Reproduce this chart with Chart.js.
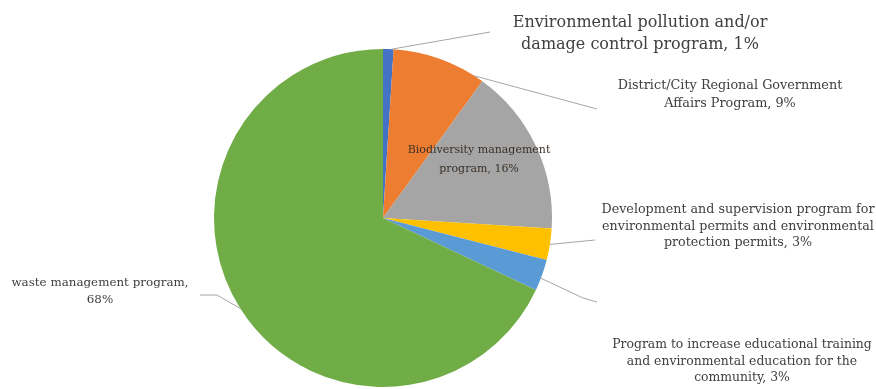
<!DOCTYPE html>
<html>
<head>
<meta charset="utf-8">
<script src="https://cdn.jsdelivr.net/npm/chart.js@4/dist/chart.umd.min.js"></script>
<style>
  html, body { margin: 0; padding: 0; background: #fff; }
  canvas { display: block; }
</style>
</head>
<body>
<canvas id="pie" width="876" height="389"></canvas>
<script>
// categories (each entry is the label split into lines)
const categories = [
  ['Environmental pollution and/or', 'damage control program'],
  ['District/City Regional Government', 'Affairs Program'],
  ['Biodiversity management', 'program'],
  ['Development and supervision program for', 'environmental permits and environmental', 'protection permits'],
  ['Program to increase educational training', 'and environmental education for the', 'community'],
  ['waste management program,']
];
const shares = [1, 9, 16, 3, 3, 68];
const colors = ['#4472C4', '#ED7D31', '#A5A5A5', '#FFC000', '#5B9BD5', '#70AD47'];

// where each label sits (layout only)
const labelLayout = [
  { x: 640, y: 23, size: 16, lh: 22, line: [[490, 32]], at: 0.8 },
  { x: 730, y: 86, size: 12.8, lh: 18, line: [[597, 109]], at: 0.9 },
  { x: 479, y: 150, size: 11, lh: 19, line: null },
  { x: 738, y: 210, size: 12.7, lh: 16.5, line: [[595, 240]], at: 0.5 },
  { x: 742, y: 345, size: 12.4, lh: 16.5, line: [[583, 298], [597, 302]], at: 0.6 },
  { x: 100, y: 283, size: 11.9, lh: 17, line: [[217, 295], [200, 295]], at: 0.5, pctLine: true }
];

const labelPlugin = {
  id: 'pieLabels',
  afterDraw(chart) {
    const ctx = chart.ctx;
    const meta = chart.getDatasetMeta(0);
    ctx.save();
    meta.data.forEach((arc, i) => {
      const p = arc.getProps(['x', 'y', 'startAngle', 'endAngle', 'outerRadius'], true);
      const L = labelLayout[i];
      if (L.line) {
        const a = p.startAngle + L.at * (p.endAngle - p.startAngle);
        const ex = p.x + Math.cos(a) * p.outerRadius;
        const ey = p.y + Math.sin(a) * p.outerRadius;
        ctx.strokeStyle = '#a6a6a6';
        ctx.lineWidth = 1;
        ctx.beginPath();
        ctx.moveTo(ex, ey);
        L.line.forEach(pt => ctx.lineTo(pt[0], pt[1]));
        ctx.stroke();
      }
      const pct = shares[i] + '%';
      const lines = categories[i].slice();
      if (L.pctLine) lines.push(pct);
      else lines[lines.length - 1] += ', ' + pct;
      ctx.font = L.size + 'px "DejaVu Serif"';
      ctx.fillStyle = i === 2 ? '#3a3129' : '#404040';
      ctx.textAlign = 'center';
      ctx.textBaseline = 'middle';
      lines.forEach((t, k) => ctx.fillText(t, L.x, L.y + k * L.lh));
    });
    ctx.restore();
  }
};

new Chart(document.getElementById('pie').getContext('2d'), {
  type: 'pie',
  data: {
    labels: categories,
    datasets: [{
      data: shares,
      backgroundColor: colors,
      borderWidth: 0
    }]
  },
  options: {
    responsive: false,
    animation: false,
    layout: { padding: { left: 214, right: 324, top: 49, bottom: 2 } },
    plugins: {
      legend: { display: false },
      tooltip: { enabled: false }
    }
  },
  plugins: [labelPlugin]
});
</script>
</body>
</html>
